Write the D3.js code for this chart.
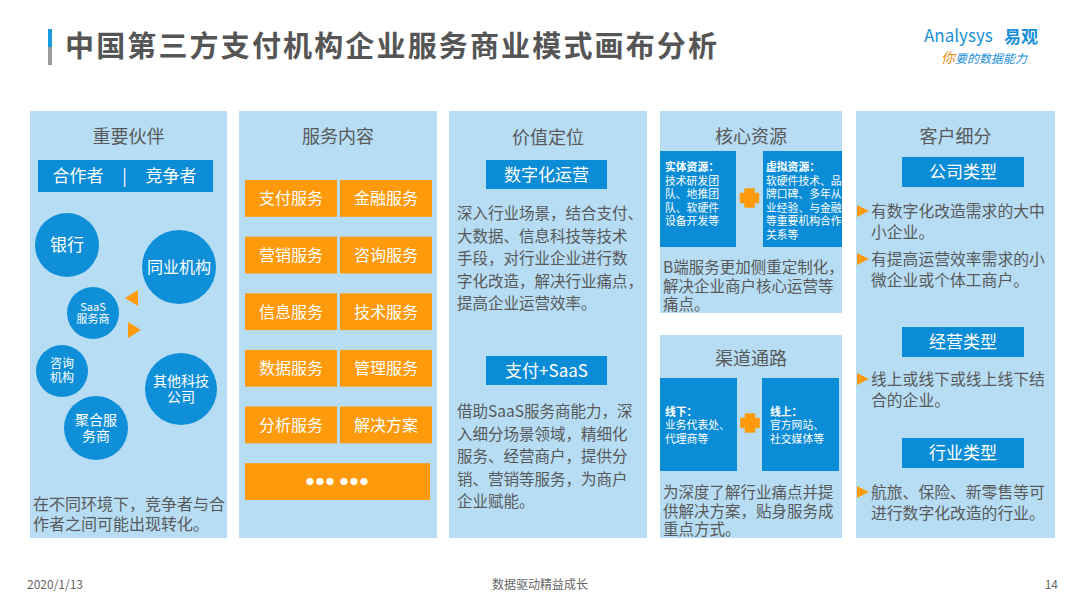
<!DOCTYPE html>
<html>

<head>
    <meta charset="UTF-8">
    <title>中国第三方支付机构企业服务商业模式画布分析</title>
    <style type="text/css">
        body {
            margin: 0;
            background: #fff;
        }

        text {
            font-family: "Noto Sans CJK SC", "Noto Sans", sans-serif;
        }
    </style>
    <script src="https://d3js.org/d3.v7.min.js"></script>
</head>

<body>
    <script type="text/javascript">
        // ---- content ----
        var pageTitle = "中国第三方支付机构企业服务商业模式画布分析";
        var panelTitles = ["重要伙伴", "服务内容", "价值定位", "核心资源", "渠道通路", "客户细分"];

        var partnerBar = ["合作者", "|", "竞争者"];
        var partnerCircles = [["银行"], ["同业机构"], ["SaaS", "服务商"], ["咨询", "机构"], ["其他科技", "公司"], ["聚合服", "务商"]];
        var partnerNote = ["在不同环境下，竞争者与合", "作者之间可能出现转化。"];

        var services = ["支付服务", "金融服务", "营销服务", "咨询服务", "信息服务", "技术服务",
            "数据服务", "管理服务", "分析服务", "解决方案"];
        var servicesMore = "●●● ●●●";

        var valueHeads = ["数字化运营", "支付+SaaS"];
        var valueTexts = [
            ["深入行业场景，结合支付、", "大数据、信息科技等技术", "手段，对行业企业进行数", "字化改造，解决行业痛点，", "提高企业运营效率。"],
            ["借助SaaS服务商能力，深", "入细分场景领域，精细化", "服务、经营商户，提供分", "销、营销等服务，为商户", "企业赋能。"]
        ];

        var resourceBoxes = [
            ["实体资源：", "技术研发团", "队、地推团", "队、软硬件", "设备开发等"],
            ["虚拟资源：", "软硬件技术、品", "牌口碑、多年从", "业经验、与金融", "等重要机构合作", "关系等"]
        ];
        var resourceNote = ["B端服务更加侧重定制化，", "解决企业商户核心运营等", "痛点。"];

        var channelBoxes = [
            ["线下：", "业务代表处、", "代理商等"],
            ["线上：", "官方网站、", "社交媒体等"]
        ];
        var channelNote = ["为深度了解行业痛点并提", "供解决方案，贴身服务成", "重点方式。"];

        var segmentHeads = ["公司类型", "经营类型", "行业类型"];
        var segmentItems = [
            [["有数字化改造需求的大中", "小企业。"], ["有提高运营效率需求的小", "微企业或个体工商户。"]],
            [["线上或线下或线上线下结", "合的企业。"]],
            [["航旅、保险、新零售等可", "进行数字化改造的行业。"]]
        ];

        var footer = ["2020/1/13", "数据驱动精益成长", "14"];

        // ---- styling ----
        var panelFill = "#b6ddf4",
            blue = "#0b8cd6",
            orange = "#fe9a0b",
            textGray = "#595959";

        var W = 1080,
            H = 608;

        var svg = d3.select("body").append("svg")
            .attr("width", W)
            .attr("height", H);

        // title + accent bar
        svg.append("rect").attr("x", 48).attr("y", 29).attr("width", 4).attr("height", 18).attr("fill", "#1a9be0");
        svg.append("rect").attr("x", 48).attr("y", 47).attr("width", 4).attr("height", 18).attr("fill", "#9a9a9a");
        svg.append("text")
            .attr("x", 65).attr("y", 57)
            .attr("font-size", 29).attr("font-weight", "bold")
            .attr("fill", "#555")
            .attr("textLength", 652).attr("lengthAdjust", "spacing")
            .text(pageTitle);

        // logo
        var logo = svg.append("g");
        logo.append("text").attr("x", 924).attr("y", 42)
            .attr("font-size", 17).attr("fill", "#1a8fd8")
            .attr("font-family", "Lato, sans-serif")
            .text("Analysys");
        logo.append("text").attr("x", 1004).attr("y", 43)
            .attr("font-size", 17).attr("font-weight", "bold").attr("fill", "#1a8fd8")
            .text("易观");
        var slogan = logo.append("text").attr("x", 941).attr("y", 63)
            .attr("font-size", 12).attr("font-style", "italic");
        slogan.append("tspan").attr("fill", "#f08c1a").attr("font-size", 14).text("你");
        slogan.append("tspan").attr("fill", "#1a8fd8").text("要的数据能力");

        // panels
        var panels = [
            { x: 30, y: 111, w: 197, h: 427, ty: 143 },
            { x: 239, y: 111, w: 198, h: 427, ty: 143 },
            { x: 449, y: 111, w: 198, h: 427, ty: 144 },
            { x: 660, y: 111, w: 182, h: 202, ty: 143 },
            { x: 660, y: 335, w: 182, h: 203, ty: 365 },
            { x: 856, y: 111, w: 199, h: 427, ty: 143 }
        ];

        svg.selectAll("rect.panel")
            .data(panels)
            .enter().append("rect")
            .attr("class", "panel")
            .attr("x", function(d) { return d.x; })
            .attr("y", function(d) { return d.y; })
            .attr("width", function(d) { return d.w; })
            .attr("height", function(d) { return d.h; })
            .attr("fill", panelFill);

        svg.selectAll("text.ptitle")
            .data(panels)
            .enter().append("text")
            .attr("class", "ptitle")
            .attr("x", function(d) { return d.x + d.w / 2; })
            .attr("y", function(d) { return d.ty; })
            .attr("text-anchor", "middle")
            .attr("font-size", 18)
            .attr("fill", textGray)
            .text(function(d, i) { return panelTitles[i]; });

        // helper: one text block, one tspan per line
        function lines(g, arr, x, y0, step, size, color, anchor, boldFirst) {
            var t = g.append("text")
                .attr("x", x)
                .attr("y", y0)
                .attr("font-size", size)
                .attr("fill", color)
                .attr("text-anchor", anchor || "start");
            t.selectAll("tspan")
                .data(arr)
                .enter().append("tspan")
                .attr("x", x)
                .attr("y", function(d, i) { return y0 + i * step; })
                .attr("font-weight", function(d, i) { return boldFirst && i === 0 ? "bold" : null; })
                .text(function(d) { return d; });
            return t;
        }

        // ---- panel 1: 重要伙伴 ----
        var p1 = svg.append("g");
        p1.append("rect").attr("x", 38).attr("y", 160).attr("width", 175).attr("height", 32).attr("fill", blue);
        var barX = d3.scalePoint().domain(partnerBar).range([78, 171]);
        p1.selectAll("text.bar")
            .data(partnerBar)
            .enter().append("text")
            .attr("x", function(d) { return barX(d); })
            .attr("y", 182)
            .attr("text-anchor", "middle")
            .attr("font-size", 17)
            .attr("fill", "#fff")
            .text(function(d) { return d; });

        var circleLayout = [
            { cx: 67, cy: 245, r: 32, fs: 17 },
            { cx: 179, cy: 267, r: 37, fs: 16 },
            { cx: 93, cy: 313, r: 26, fs: 11 },
            { cx: 62, cy: 371, r: 26, fs: 12 },
            { cx: 181, cy: 389, r: 36, fs: 14 },
            { cx: 96, cy: 428, r: 32, fs: 14 }
        ];
        var circ = p1.selectAll("g.circ")
            .data(partnerCircles)
            .enter().append("g")
            .attr("transform", function(d, i) {
                return "translate(" + circleLayout[i].cx + "," + circleLayout[i].cy + ")";
            });
        circ.append("circle")
            .attr("r", function(d, i) { return circleLayout[i].r; })
            .attr("fill", "#0f8fd8");
        circ.each(function(d, i) {
            var fs = circleLayout[i].fs;
            var lh = fs * 1.15;
            var off = -(d.length - 1) * lh / 2 + fs * 0.36;
            lines(d3.select(this), d, 0, off, lh, fs, "#fff", "middle");
        });
        p1.append("path").attr("d", "M125,298 L138,290 L138,306 Z").attr("fill", orange);
        p1.append("path").attr("d", "M128,322 L141,330 L128,338 Z").attr("fill", orange);

        lines(p1, partnerNote, 33, 510, 19.5, 16, textGray);

        // ---- panel 2: 服务内容 ----
        var p2 = svg.append("g");
        var rowY = d3.scaleBand().domain(d3.range(6)).range([180, 500]).paddingInner(0.35);
        var colX = d3.scaleBand().domain([0, 1]).range([245, 432]).paddingInner(0.03);
        var svc = p2.selectAll("g.svc")
            .data(services)
            .enter().append("g")
            .attr("transform", function(d, i) {
                return "translate(" + colX(i % 2) + "," + rowY(Math.floor(i / 2)) + ")";
            });
        svc.append("rect")
            .attr("width", colX.bandwidth())
            .attr("height", rowY.bandwidth())
            .attr("fill", orange);
        svc.append("text")
            .attr("x", colX.bandwidth() / 2)
            .attr("y", rowY.bandwidth() / 2 + 6)
            .attr("text-anchor", "middle")
            .attr("font-size", 16)
            .attr("fill", "#fff")
            .text(function(d) { return d; });
        p2.append("rect")
            .attr("x", 245).attr("y", rowY(5))
            .attr("width", 185).attr("height", rowY.bandwidth())
            .attr("fill", orange);
        p2.append("text")
            .attr("x", 338).attr("y", rowY(5) + rowY.bandwidth() / 2 + 3)
            .attr("text-anchor", "middle")
            .attr("font-size", 8)
            .attr("letter-spacing", 2)
            .attr("fill", "#fff")
            .text(servicesMore);

        // ---- panel 3: 价值定位 ----
        var p3 = svg.append("g");
        var valueY = [{ box: 160, text: 219 }, { box: 356, text: 417 }];
        valueHeads.forEach(function(h, i) {
            p3.append("rect").attr("x", 486).attr("y", valueY[i].box)
                .attr("width", 121).attr("height", 29).attr("fill", blue);
            p3.append("text").attr("x", 546.5).attr("y", valueY[i].box + 21)
                .attr("text-anchor", "middle").attr("font-size", 17).attr("fill", "#fff")
                .text(h);
            lines(p3, valueTexts[i], 457, valueY[i].text, 22.6, 15.5, textGray);
        });

        // plus sign
        function plus(g, cx, cy) {
            g.append("path")
                .attr("d", "M" + (cx - 4.5) + "," + (cy - 9) + " h9 v4.5 h4.5 v9 h-4.5 v4.5 h-9 v-4.5 h-4.5 v-9 h4.5 Z")
                .attr("fill", orange)
                .attr("stroke", orange)
                .attr("stroke-width", 1.5)
                .attr("stroke-linejoin", "round");
        }

        // ---- panel 4: 核心资源 ----
        var p4 = svg.append("g");
        var resBoxX = [660, 763];
        resourceBoxes.forEach(function(b, i) {
            p4.append("rect").attr("x", resBoxX[i]).attr("y", 151)
                .attr("width", i ? 79 : 76).attr("height", 96).attr("fill", blue);
            lines(p4, b, resBoxX[i] + (i ? 3 : 5), 171, 13.5, 10.8, "#fff", "start", true);
        });
        plus(p4, 749.5, 198);
        lines(p4, resourceNote, 663, 273, 18.5, 15.5, textGray);

        // ---- panel 5: 渠道通路 ----
        var p5 = svg.append("g");
        var chBoxX = [660, 762];
        channelBoxes.forEach(function(b, i) {
            p5.append("rect").attr("x", chBoxX[i]).attr("y", 378)
                .attr("width", 77).attr("height", 93).attr("fill", blue);
            lines(p5, b, chBoxX[i] + (i ? 8 : 5), 416, 13.3, 10.8, "#fff", "start", true);
        });
        plus(p5, 750, 423);
        lines(p5, channelNote, 663, 498, 18.5, 15.5, textGray);

        // ---- panel 6: 客户细分 ----
        var p6 = svg.append("g");
        var segBoxY = [157, 327, 438];
        var segItemY = [[217, 265], [385], [498]];
        segmentHeads.forEach(function(h, i) {
            p6.append("rect").attr("x", 902).attr("y", segBoxY[i])
                .attr("width", 122).attr("height", 30).attr("fill", blue);
            p6.append("text").attr("x", 963).attr("y", segBoxY[i] + 21)
                .attr("text-anchor", "middle").attr("font-size", 17).attr("fill", "#fff")
                .text(h);
            segmentItems[i].forEach(function(item, k) {
                var y = segItemY[i][k];
                p6.append("path")
                    .attr("d", "M857," + (y - 12) + " L869," + (y - 6) + " L857," + y + " Z")
                    .attr("fill", orange);
                lines(p6, item, 871, y, 20.5, 15.8, textGray);
            });
        });

        // ---- footer ----
        svg.append("text").attr("x", 27).attr("y", 589).attr("font-size", 12).attr("fill", "#666").text(footer[0]);
        svg.append("text").attr("x", 540).attr("y", 589).attr("text-anchor", "middle").attr("font-size", 12).attr("fill", "#666").text(footer[1]);
        svg.append("text").attr("x", 1058).attr("y", 589).attr("text-anchor", "end").attr("font-size", 12).attr("fill", "#666").text(footer[2]);
    </script>

</body>

</html>
